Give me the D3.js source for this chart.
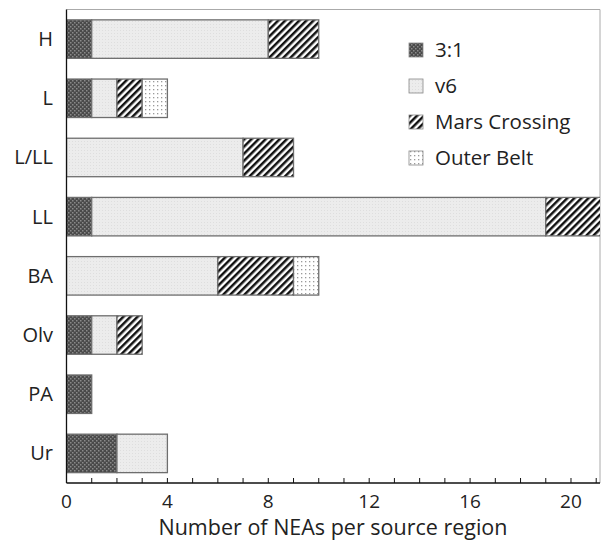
<!DOCTYPE html>
<html>
<head>
<meta charset="utf-8">
<script src="https://cdn.jsdelivr.net/npm/d3@7"></script>
<style>
  html, body { margin: 0; padding: 0; background: #fff; }
  svg text { font-family: "Open Sans", "Noto Sans", sans-serif; fill: #222; }
</style>
</head>
<body>
<svg id="chart" width="601" height="544"></svg>
<script>
// Source regions of meteorite-delivering NEAs, by meteorite class
const categories = ["H", "L", "L/LL", "LL", "BA", "Olv", "PA", "Ur"];
const seriesNames = ["3:1", "v6", "Mars Crossing", "Outer Belt"];
const resonance31   = [1, 1, 0, 1, 0, 1, 1, 2];
const nu6           = [7, 1, 7, 18, 6, 1, 0, 2];
const marsCrossing  = [2, 1, 2, 3, 3, 1, 0, 0];
const outerBelt     = [0, 1, 0, 0, 1, 0, 0, 0];
const tickLabels = [0, 4, 8, 12, 16, 20];
const xMax = 21.15;

const svg = d3.select("#chart");
const margin = { left: 66.5, right: 600, top: 9.5, bottom: 483 };

const x = d3.scaleLinear().domain([0, xMax]).range([margin.left, margin.right]);
const y = d3.scaleBand().domain(categories).range([margin.top, margin.bottom]).paddingInner(0.35).paddingOuter(0.175);

// Fill patterns
const defs = svg.append("defs");

const pDark = defs.append("pattern").attr("id", "pat-31")
  .attr("patternUnits", "userSpaceOnUse").attr("width", 4).attr("height", 4);
pDark.append("rect").attr("width", 4).attr("height", 4).attr("fill", "#4a4a4a");
pDark.append("rect").attr("x", 0).attr("y", 0).attr("width", 1.5).attr("height", 1.5).attr("fill", "#8a8a8a");
pDark.append("rect").attr("x", 2).attr("y", 2).attr("width", 1.5).attr("height", 1.5).attr("fill", "#8a8a8a");

const pLight = defs.append("pattern").attr("id", "pat-v6")
  .attr("patternUnits", "userSpaceOnUse").attr("width", 3).attr("height", 3);
pLight.append("rect").attr("width", 3).attr("height", 3).attr("fill", "#ececec");
pLight.append("rect").attr("x", 0).attr("y", 0).attr("width", 1).attr("height", 1).attr("fill", "#dedede");

const pHatch = defs.append("pattern").attr("id", "pat-mc")
  .attr("patternUnits", "userSpaceOnUse").attr("width", 5).attr("height", 5)
  .attr("patternTransform", "rotate(45)");
pHatch.append("rect").attr("width", 5).attr("height", 5).attr("fill", "#fff");
pHatch.append("rect").attr("width", 2.5).attr("height", 5).attr("fill", "#111");

const pDots = defs.append("pattern").attr("id", "pat-ob")
  .attr("patternUnits", "userSpaceOnUse").attr("width", 4).attr("height", 4);
pDots.append("rect").attr("width", 4).attr("height", 4).attr("fill", "#fff");
pDots.append("rect").attr("x", 1).attr("y", 1).attr("width", 1.3).attr("height", 1.3).attr("fill", "#9a9a9a");

const fills = ["url(#pat-31)", "url(#pat-v6)", "url(#pat-mc)", "url(#pat-ob)"];

defs.append("clipPath").attr("id", "plot-clip")
  .append("rect").attr("x", margin.left).attr("y", margin.top)
  .attr("width", margin.right - margin.left).attr("height", margin.bottom - margin.top);

// Frame: light top/right border
svg.append("path")
  .attr("d", `M${margin.left},${margin.top}H${margin.right}V${margin.bottom}`)
  .attr("fill", "none").attr("stroke", "#aaa").attr("stroke-width", 1);

// Stacked bars
const table = categories.map((c, i) => ({
  cat: c, "3:1": resonance31[i], "v6": nu6[i], "Mars Crossing": marsCrossing[i], "Outer Belt": outerBelt[i]
}));
const stacked = d3.stack().keys(seriesNames)(table);

const barLayer = svg.append("g").attr("clip-path", "url(#plot-clip)");
stacked.forEach((layer, k) => {
  barLayer.append("g").selectAll("rect")
    .data(layer.filter(d => d[1] - d[0] > 0))
    .join("rect")
    .attr("x", d => x(d[0]))
    .attr("width", d => x(d[1]) - x(d[0]))
    .attr("y", d => y(d.data.cat))
    .attr("height", y.bandwidth())
    .attr("fill", fills[k])
    .attr("stroke", "#6e6e6e")
    .attr("stroke-width", 1.3);
});

// X axis: minor ticks every unit, pointing inward, labels every 4
const xAxisG = svg.append("g").attr("transform", `translate(0,${margin.bottom})`);
xAxisG.append("line").attr("x1", margin.left).attr("x2", margin.right)
  .attr("stroke", "#111").attr("stroke-width", 1.3);
xAxisG.selectAll("line.tick").data(d3.range(0, Math.floor(xMax) + 1))
  .join("line").attr("class", "tick")
  .attr("x1", d => x(d)).attr("x2", d => x(d))
  .attr("y1", 0).attr("y2", -5)
  .attr("stroke", "#111").attr("stroke-width", 1);
xAxisG.selectAll("text").data(tickLabels).join("text")
  .attr("x", d => x(d)).attr("y", 25)
  .attr("text-anchor", "middle")
  .attr("font-size", 19)
  .text(d => d);

// Y axis line and category labels
svg.append("line").attr("x1", margin.left).attr("x2", margin.left)
  .attr("y1", margin.top).attr("y2", margin.bottom)
  .attr("stroke", "#111").attr("stroke-width", 1.3);
svg.append("g").selectAll("text").data(categories).join("text")
  .attr("x", 53).attr("y", d => y(d) + y.bandwidth() / 2)
  .attr("dy", "0.35em")
  .attr("text-anchor", "end")
  .attr("font-size", 20)
  .text(d => d);

// Axis title
svg.append("text").attr("x", 333).attr("y", 535)
  .attr("text-anchor", "middle").attr("font-size", 21.5)
  .text("Number of NEAs per source region");

// Legend
const legend = svg.append("g").attr("transform", "translate(409,50)");
seriesNames.forEach((name, i) => {
  const g = legend.append("g").attr("transform", `translate(0,${i * 36})`);
  g.append("rect").attr("x", 0).attr("y", -7).attr("width", 14).attr("height", 14)
    .attr("fill", fills[i]).attr("stroke", "#888").attr("stroke-width", 0.8);
  g.append("text").attr("x", 26).attr("y", 0).attr("dy", "0.35em")
    .attr("font-size", 20.5).text(name);
});
</script>
</body>
</html>
